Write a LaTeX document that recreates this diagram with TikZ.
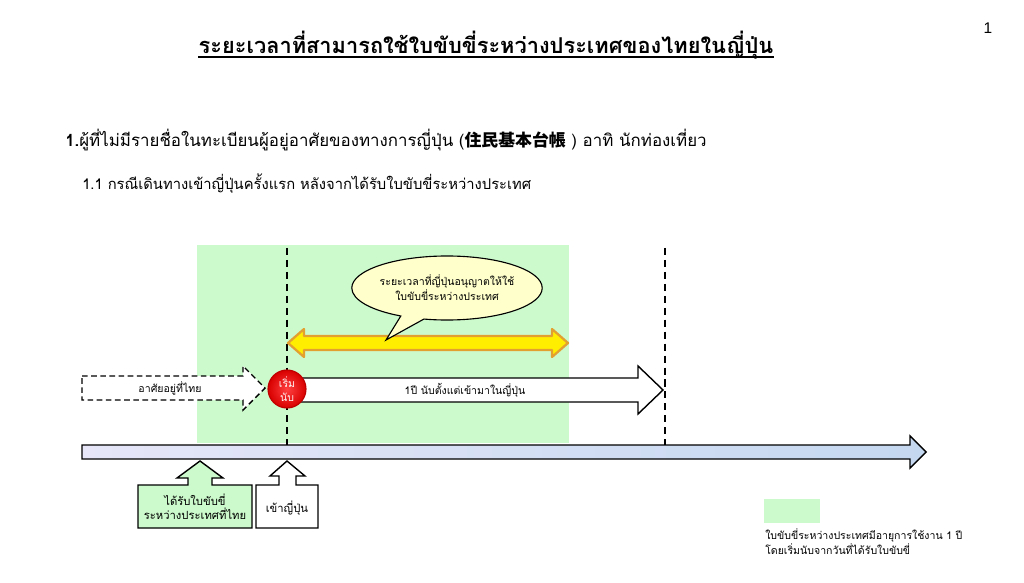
\documentclass[tikz,border=0pt]{standalone}
\usepackage{fontspec}
\setmainfont{Loma}[Script=Thai]
\newfontfamily\jpfont{Noto Sans CJK JP}
\newfontfamily\numfont{Liberation Sans}
\usetikzlibrary{shapes.callouts,shapes.geometric}
\usepackage{xcolor}
\definecolor{lightgreen}{RGB}{205,250,204}
\definecolor{talkyellow}{RGB}{255,255,204}
\definecolor{bandyellow}{RGB}{255,238,0}
\definecolor{bandorange}{RGB}{226,160,48}
\definecolor{barleft}{RGB}{230,230,248}
\definecolor{barright}{RGB}{196,216,240}
\colorlet{darkred}{red!75!black}

\tikzset{
	txt/.style={inner sep=0pt, align=center, font=\fontsize{7.5}{9.5}\selectfont},
	mark line/.style={line width=1.4pt, dash pattern=on 5pt off 3.5pt},
	outline/.style={draw=black, line width=1pt, line join=miter}
}

\begin{document}
\begin{tikzpicture}[x=0.025cm, y=-0.025cm]
	\useasboundingbox (0,0) rectangle (1024,583);

	% headings
	\node	(page) at (988,28) [inner sep=0pt] {\numfont\fontsize{11}{11}\selectfont 1};
	\node	(title) at (486,45) [inner sep=0pt, font=\fontsize{15.5}{18}\selectfont\bfseries] {ระยะเวลาที่สามารถใช้ใบขับขี่ระหว่างประเทศของไทยในญี่ปุ่น};
	\draw[line width=1.2pt] ([yshift=-2.5pt]title.base west) -- ([yshift=-2.5pt]title.base east);
	\node	(heading) at (65,140) [anchor=west, inner sep=0pt, font=\fontsize{12}{14}\selectfont] {\textbf{1.}ผู้ที่ไม่มีรายชื่อในทะเบียนผู้อยู่อาศัยของทางการญี่ปุ่น (\textbf{\jpfont 住民基本台帳} ) อาทิ นักท่องเที่ยว};
	\node	(subheading) at (82,184) [anchor=west, inner sep=0pt, font=\fontsize{10.5}{12}\selectfont] {1.1 กรณีเดินทางเข้าญี่ปุ่นครั้งแรก หลังจากได้รับใบขับขี่ระหว่างประเทศ};

	% valid period
	\fill[lightgreen] (197,245) rectangle (569,443);
	\draw[mark line] (287,248) -- (287,445);
	\draw[mark line] (665,248) -- (665,445);
	\filldraw[fill=bandyellow, draw=bandorange, line width=1.6pt, line join=round]
		(288,343) -- (304,329) -- (304,336) -- (552,336) -- (552,329) -- (568,343)
		-- (552,357) -- (552,350) -- (304,350) -- (304,357) -- cycle;
	\node	(talk) at (447,288) [ellipse callout, draw, fill=talkyellow, line width=0.8pt, minimum width=4.35cm, minimum height=1.6cm, callout absolute pointer={(386,340)}, txt] {ระยะเวลาที่ญี่ปุ่นอนุญาตให้ใช้\\ใบขับขี่ระหว่างประเทศ};

	% stay and count
	\draw[outline, dashed, dash pattern=on 4pt off 2.5pt, fill=white]
		(82,376) -- (243,376) -- (243,366) -- (265,388) -- (243,410) -- (243,400) -- (82,400) -- cycle;
	\node	(stay) at (170,388) [txt] {อาศัยอยู่ที่ไทย};
	\draw[outline, fill=white]
		(300,378) -- (638,378) -- (638,366) -- (663,390) -- (638,414) -- (638,402) -- (300,402) -- cycle;
	\node	(year) at (465,390) [txt] {1ปี นับตั้งแต่เข้ามาในญี่ปุ่น};
	\node	(start) at (287,389) [circle, draw=darkred, line width=0.8pt, inner color=red!75!white, outer color=red!85!black, minimum size=0.95cm, txt, text=white!85!pink] {เริ่ม\\นับ};

	% time axis
	\draw[outline, left color=barleft, right color=barright]
		(82,445) -- (910,445) -- (910,436) -- (926,452) -- (910,468) -- (910,459) -- (82,459) -- cycle;

	% events
	\draw[outline, fill=lightgreen]
		(138,485) -- (188,485) -- (188,478) -- (177,478) -- (200,461) -- (223,478) -- (212,478)
		-- (212,485) -- (252,485) -- (252,528) -- (138,528) -- cycle;
	\node	(license) at (195,507) [txt, font=\fontsize{8}{10}\selectfont] {ได้รับใบขับขี่\\ระหว่างประเทศที่ไทย};
	\draw[outline, fill=white]
		(256,485) -- (279,485) -- (279,476) -- (270,476) -- (287,461) -- (305,476) -- (296,476)
		-- (296,485) -- (318,485) -- (318,528) -- (256,528) -- cycle;
	\node	(entry) at (287,508) [txt, font=\fontsize{8}{10}\selectfont] {เข้าญี่ปุ่น};

	% legend
	\node	(legendbox) at (792,511) [fill=lightgreen, minimum width=1.4cm, minimum height=0.58cm, inner sep=0pt] {};
	\node	(legendtext) at (765,542) [anchor=west, txt, align=left] {ใบขับขี่ระหว่างประเทศมีอายุการใช้งาน 1 ปี\\โดยเริ่มนับจากวันที่ได้รับใบขับขี่};
\end{tikzpicture}
\end{document}
